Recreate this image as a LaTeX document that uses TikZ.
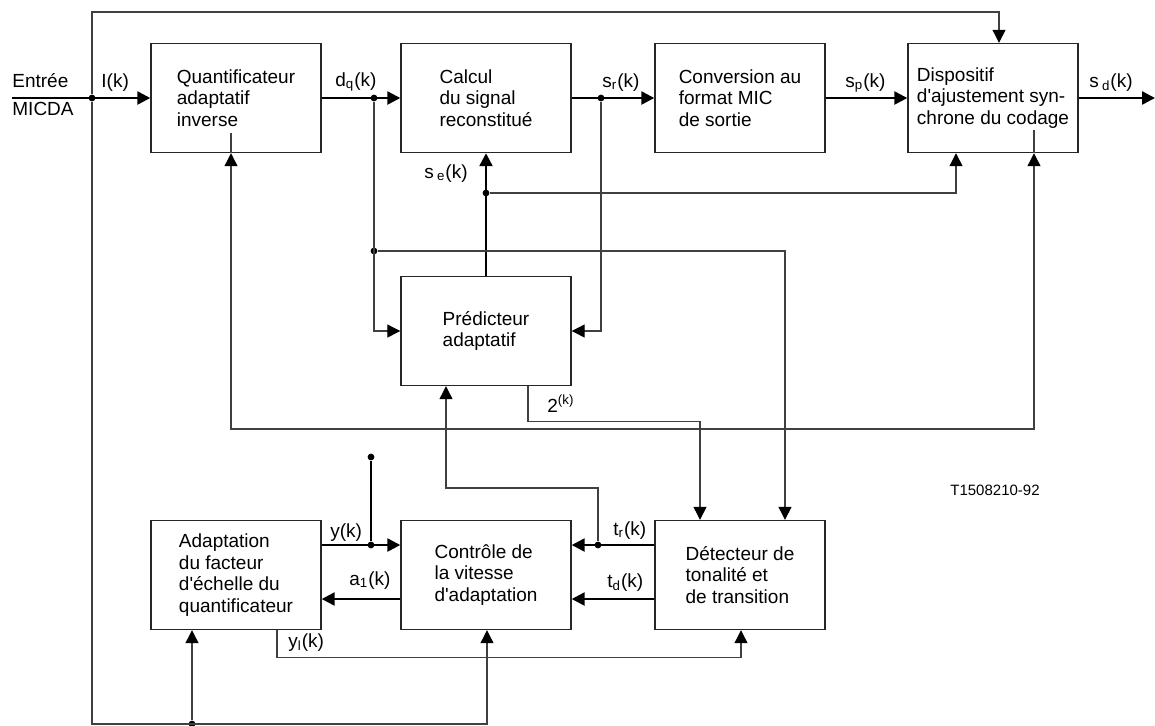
\documentclass[tikz,border=0pt]{standalone}
\usepackage{fontspec}
\setmainfont{Liberation Sans}
\usepackage{tikz}
\usetikzlibrary{arrows.meta,calc}
\definecolor{wire}{HTML}{404040}

\begin{document}
\begin{tikzpicture}[x=0.5pt,y=-0.5pt,font=\fontsize{9.5}{10.8}\selectfont,
  >={Triangle[length=6.5pt,width=6.5pt,color=black]},
  blk/.style={draw=black!85,line width=0.7pt,minimum width=85pt,minimum height=54.5pt,align=left,inner sep=0pt},
  sig/.style={line width=1.2pt,->},
  fb/.style={draw=wire,line width=0.6pt,->},
  dot/.style={circle,fill,inner sep=0pt,minimum size=3.4pt},
  lab/.style={anchor=base west,inner sep=0pt}]
\useasboundingbox (0,0) rectangle (1155,725);
% blocs
\node[blk] (quant) at (236,98) {Quantificateur\\adaptatif\\inverse};
\node[blk] (calc) at (486,98) {Calcul\\du signal\\reconstitué};
\node[blk] (conv) at (740,98) {Conversion au\\format MIC\\de sortie};
\node[blk] (ajust) at (993,98) {Dispositif\\d\textquotesingle ajustement syn-\\chrone du codage};
\node[blk] (pred) at (486,331) {Prédicteur\\adaptatif};
\node[blk] (adapt) at (236,575) {Adaptation\\du facteur\\d\textquotesingle échelle du\\quantificateur};
\node[blk] (ctrl) at (486,575) {Contrôle de\\la vitesse\\d\textquotesingle adaptation};
\node[blk] (detect) at (740,575) {Détecteur de\\tonalité et\\de transition};
% points de jonction
\coordinate (in) at (12,98);
\coordinate (out) at (1155,98);
\coordinate (topR) at (999,12);
\coordinate (botR) at (487,724);
\coordinate (lpL) at (231,429);
\coordinate (lpR) at (1034,429);
\node[dot] (jin) at (92,98) {};
\node[dot] (jdq) at (374,98) {};
\node[dot] (jsr) at (601,98) {};
\node[dot] (jdq2) at (374,251) {};
\node[dot] (jse) at (486,193) {};
\node[dot] (jy) at (371,545) {};
\node[dot] (jyt) at (371,457) {};
\node[dot] (jtr) at (598,545) {};
\node[dot] (jbot) at (192,724) {};
% chemin principal
\draw[sig] (in) -- (quant.west);
\draw[sig] (quant.east) -- (calc.west);
\draw[sig] (calc.east) -- (conv.west);
\draw[sig] (conv.east) -- (ajust.west);
\draw[sig] (ajust.east) -- (out);
\draw[sig] (pred.north) -- (calc.south);
% boucles
\draw[fb] (jin) |- (topR) -- (topR |- ajust.north);
\draw[fb] (jin) |- (botR) -- (botR |- ctrl.south);
\draw[fb] (jbot) -- (jbot |- adapt.south);
\draw[fb] (jdq) |- (pred.west);
\draw[fb] (jdq2) -| ($(detect.north)+(45,0)$);
\draw[fb] (jsr) |- (pred.east);
\draw[fb] (jse) -| ($(ajust.south)+(-37,0)$);
\draw[fb,<->] (lpL |- quant.south) -- (lpL) -- (lpR) -- (lpR |- ajust.south);
\draw[fb,-] (lpL |- quant.south) -- ++(0,-20);
\draw[fb,-] (lpR |- ajust.south) -- ++(0,-23);
\draw[fb] ($(pred.south)+(42,0)$) -- ++(0,35) -| ($(detect.north)+(-40,0)$);
% partie basse
\draw[sig] ($(adapt.east)+(0,-30)$) -- ($(ctrl.west)+(0,-30)$);
\draw[line width=1.2pt] (jy) -- (jyt);
\draw[sig] ($(ctrl.west)+(0,24)$) -- ($(adapt.east)+(0,24)$);
\draw[sig] ($(detect.west)+(0,-30)$) -- ($(ctrl.east)+(0,-30)$);
\draw[sig] ($(detect.west)+(0,24)$) -- ($(ctrl.east)+(0,24)$);
\draw[fb] (jtr) -- ++(0,-57) -| ($(pred.south)+(-40,0)$);
\draw[fb] ($(adapt.south)+(41,0)$) -- ++(0,27) -| ($(detect.south)+(1,0)$);
% etiquettes
\node[lab] (lentree) at (12,87) {Entrée};
\node[lab] (lmicda) at (12,115) {MICDA};
\node[lab] (lI) at (101,87) {I(k)};
\node[lab] (ldq) at (335,86) {d\textsubscript{q}(k)};
\node[lab] (lsr) at (602,87) {s\textsubscript{r}(k)};
\node[lab] (lsp) at (845,87) {s\textsubscript{p}(k)};
\node[lab] (lsd) at (1089,87) {s\,\textsubscript{d}(k)};
\node[lab] (lse) at (424,178) {s\,\textsubscript{e}(k)};
\node[lab] (l2k) at (547,412) {2\textsuperscript{(k)}};
\node[lab] (ly) at (330,537) {y(k)};
\node[lab] (la1) at (349,585) {a\textsubscript{1}(k)};
\node[lab] (lyl) at (288,647) {y\textsubscript{l}(k)};
\node[lab] (ltr) at (613,535) {t\textsubscript{r}(k)};
\node[lab] (ltd) at (607,587) {t\textsubscript{d}(k)};
\node[font=\fontsize{7.5}{9}\selectfont] (ref) at (995,490) {T1508210-92};
\end{tikzpicture}
\end{document}
